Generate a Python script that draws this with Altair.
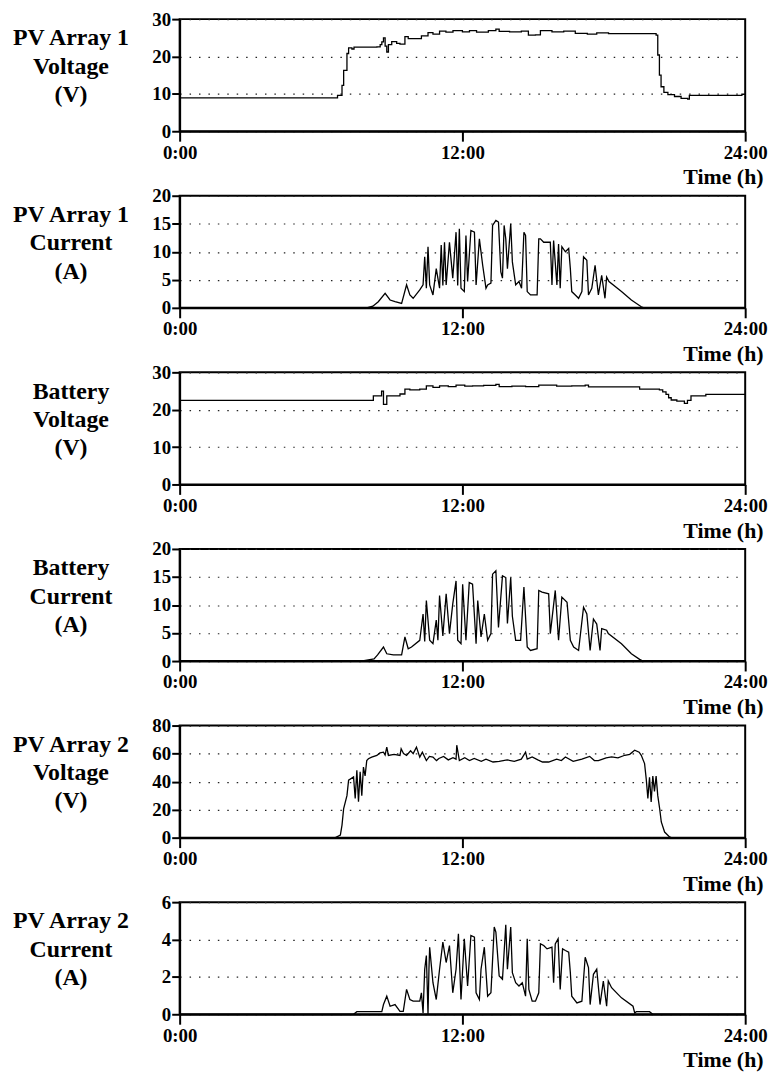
import altair as alt
import pandas as pd

# ---------------- data (hours, value) ----------------
PV1_VOLTAGE = [
    (0, 8.9), (6.70, 9.6), (6.89, 12.3), (6.96, 16.3), (7.10, 20.8), (7.17, 22.3), (7.31, 22.0),
    (7.40, 22.5), (8.37, 22.6), (8.51, 23.2), (8.58, 23.9), (8.65, 25.0), (8.72, 22.8), (8.79, 21.2),
    (8.86, 23.2), (9.00, 24.0), (9.21, 23.5), (9.35, 23.3), (9.56, 25.3), (9.70, 24.8), (10.26, 25.5),
    (10.54, 26.4), (10.75, 26.0), (11.03, 26.8), (11.3, 26.5), (11.6, 26.9), (12.0, 26.6), (12.3, 26.9),
    (12.6, 26.5), (13.1, 26.9), (13.42, 27.3), (13.56, 26.7), (14.0, 26.6), (14.5, 26.8), (14.80, 25.7),
    (15.10, 25.8), (15.31, 26.9), (15.8, 26.6), (16.3, 26.8), (16.79, 26.2), (17.3, 26.0), (17.7, 26.3),
    (18.2, 26.1), (18.89, 26.1), (20.22, 25.7), (20.29, 20.4), (20.36, 15.0), (20.43, 11.9),
    (20.55, 10.4), (20.72, 9.8), (21.0, 9.3), (21.28, 8.8), (21.56, 8.6), (21.63, 9.6), (22.96, 9.6),
    (23.86, 9.9), (24.0, 9.9),
]

PV1_CURRENT = [
    (0, 0), (7.94, 0), (8.20, 0.3), (8.43, 1.1), (8.72, 2.6), (8.93, 1.4), (9.14, 1.1), (9.42, 0.8),
    (9.63, 4.1), (9.77, 2.3), (9.91, 1.7), (10.19, 3.2), (10.33, 4.1), (10.40, 9.1), (10.47, 3.5),
    (10.54, 10.9), (10.61, 4.1), (10.75, 2.3), (10.89, 7.0), (11.03, 3.5), (11.10, 11.2), (11.17, 4.0),
    (11.24, 11.7), (11.31, 4.1), (11.45, 11.7), (11.59, 5.3), (11.73, 13.5), (11.80, 4.0), (11.87, 14.1),
    (11.94, 3.5), (12.08, 2.9), (12.15, 12.9), (12.22, 4.7), (12.36, 13.8), (12.51, 13.5), (12.58, 4.1),
    (12.72, 12.3), (12.86, 7.6), (13.00, 3.5), (13.07, 4.1), (13.21, 4.4), (13.28, 14.7), (13.42, 15.6),
    (13.53, 15.3), (13.63, 6.4), (13.70, 5.3), (13.77, 14.7), (13.84, 12.3), (13.91, 7.0), (14.05, 15.0),
    (14.12, 8.2), (14.26, 4.1), (14.40, 4.7), (14.51, 3.5), (14.61, 13.5), (14.68, 12.9), (14.75, 2.9),
    (14.89, 2.3), (15.17, 2.3), (15.24, 12.3), (15.31, 12.3), (15.45, 11.7), (15.73, 11.7), (15.80, 4.1),
    (15.87, 12.0), (16.01, 4.1), (16.08, 11.4), (16.15, 3.5), (16.22, 10.9), (16.37, 10.0), (16.51, 10.6),
    (16.58, 7.0), (16.64, 2.9), (16.79, 2.3), (16.93, 1.7), (17.07, 2.9), (17.14, 9.1), (17.28, 8.5),
    (17.35, 2.3), (17.49, 3.5), (17.63, 7.6), (17.77, 2.3), (17.91, 5.8), (18.05, 1.7), (18.12, 5.5),
    (18.22, 4.7), (18.75, 2.9), (19.17, 1.4), (19.59, 0.2), (19.7, 0), (24, 0),
]

BATTERY_VOLTAGE = [
    (0, 22.5), (8.22, 23.7), (8.57, 25.0), (8.65, 21.4), (8.79, 23.7), (9.07, 23.7), (9.35, 24.2),
    (9.56, 25.5), (9.77, 25.3), (10.19, 25.5), (10.47, 26.4), (10.75, 26.0), (11.03, 26.4), (11.4, 26.2),
    (11.73, 26.6), (12.1, 26.3), (12.43, 26.4), (12.9, 26.5), (13.42, 26.8), (13.56, 26.2), (14.1, 26.3),
    (14.68, 26.2), (15.24, 26.6), (16.0, 26.3), (16.64, 26.4), (17.21, 26.6), (17.35, 26.1),
    (19.52, 25.5), (20.36, 25.3), (20.50, 24.8), (20.64, 24.1), (20.75, 23.2), (20.86, 22.6),
    (21.1, 22.3), (21.42, 21.7), (21.55, 22.5), (21.70, 23.7), (22.33, 24.1), (24, 24.1),
]

BATTERY_CURRENT = [
    (0, 0), (7.70, 0), (8.25, 0.4), (8.40, 1.1), (8.65, 2.5), (8.79, 1.3), (9.07, 1.1), (9.42, 1.1),
    (9.56, 4.3), (9.70, 2.2), (9.84, 2.5), (10.19, 3.7), (10.33, 8.4), (10.40, 3.5), (10.47, 10.8),
    (10.61, 3.7), (10.75, 3.1), (10.89, 7.3), (10.96, 3.7), (11.03, 11.7), (11.17, 4.5), (11.31, 12.0),
    (11.45, 4.9), (11.59, 10.2), (11.73, 14.3), (11.80, 3.7), (11.94, 3.1), (12.01, 13.7), (12.15, 3.7),
    (12.29, 14.0), (12.43, 13.7), (12.58, 3.1), (12.65, 10.8), (12.79, 4.3), (12.93, 8.4), (13.07, 3.7),
    (13.21, 4.9), (13.28, 15.5), (13.42, 16.1), (13.53, 6.0), (13.70, 15.2), (13.84, 14.9), (13.91, 6.7),
    (14.05, 14.9), (14.12, 8.0), (14.26, 3.7), (14.47, 3.7), (14.61, 13.2), (14.75, 2.5), (14.89, 1.9),
    (15.17, 2.2), (15.24, 12.6), (15.38, 12.3), (15.66, 12.0), (15.73, 4.9), (15.94, 12.6), (16.08, 3.7),
    (16.22, 11.4), (16.44, 10.5), (16.58, 3.7), (16.72, 2.5), (16.93, 1.9), (17.14, 9.6), (17.28, 8.4),
    (17.42, 1.9), (17.56, 7.5), (17.70, 6.6), (17.84, 1.9), (17.91, 5.8), (18.12, 5.5), (18.19, 4.9),
    (18.75, 3.1), (19.17, 1.3), (19.52, 0.3), (19.66, 0), (24, 0),
]

PV2_VOLTAGE = [
    (0, 0), (6.61, 0), (6.82, 1.9), (6.89, 9.0), (6.96, 20.8), (7.10, 30.0), (7.17, 41.0), (7.38, 43.3),
    (7.45, 28.0), (7.52, 48.0), (7.59, 25.6), (7.66, 47.0), (7.73, 30.0), (7.80, 50.4), (7.87, 44.0),
    (7.94, 55.0), (8.01, 56.3), (8.15, 57.5), (8.37, 58.7), (8.50, 60.5), (8.65, 61.0), (8.72, 59.0),
    (8.79, 64.6), (8.86, 58.7), (9.10, 59.5), (9.35, 58.7), (9.40, 63.4), (9.50, 60.0), (9.63, 58.7),
    (9.80, 62.0), (9.91, 60.0), (10.05, 64.6), (10.19, 57.5), (10.30, 61.0), (10.47, 55.0), (10.60, 58.0),
    (10.75, 57.5), (10.90, 55.0), (11.00, 56.5), (11.20, 58.0), (11.40, 55.5), (11.60, 57.0), (11.73, 56.0),
    (11.76, 66.0), (11.87, 55.0), (12.10, 57.0), (12.30, 55.0), (12.50, 56.5), (12.80, 54.5), (13.00, 56.0),
    (13.30, 54.0), (13.56, 54.5), (13.90, 55.5), (14.20, 54.5), (14.50, 56.0), (14.68, 61.0), (14.75, 56.0),
    (14.96, 57.6), (15.20, 55.5), (15.40, 54.0), (15.66, 54.0), (16.00, 56.0), (16.20, 55.0), (16.37, 57.6),
    (16.70, 54.5), (17.07, 56.0), (17.40, 58.0), (17.60, 55.0), (17.77, 55.0), (18.10, 57.0), (18.33, 57.6),
    (18.60, 57.0), (18.89, 58.8), (19.10, 59.5), (19.31, 62.4), (19.50, 61.0), (19.59, 58.8), (19.73, 52.9),
    (19.80, 42.0), (19.87, 27.9), (19.94, 43.0), (20.01, 25.5), (20.08, 44.0), (20.15, 33.0), (20.22, 44.0),
    (20.29, 30.0), (20.37, 20.7), (20.44, 11.2), (20.58, 4.0), (20.79, 0.5), (20.86, 0), (24, 0),
]

PV2_CURRENT = [
    (0, 0), (7.38, 0), (7.52, 0.14), (8.58, 0.14), (8.65, 0.52), (8.79, 0.97), (8.93, 0.43), (9.14, 0.52),
    (9.35, 0.16), (9.49, 0.16), (9.63, 1.33), (9.77, 0.79), (9.91, 0.70), (10.19, 0.70), (10.26, 1.15),
    (10.33, 0.07), (10.40, 2.41), (10.47, 3.14), (10.54, 0), (10.58, 2.41), (10.61, 3.59), (10.75, 1.69),
    (10.89, 0.79), (11.03, 2.41), (11.17, 3.86), (11.31, 2.77), (11.45, 3.68), (11.59, 1.15), (11.73, 2.41),
    (11.83, 4.31), (11.94, 0.79), (12.08, 4.04), (12.22, 1.51), (12.36, 4.22), (12.51, 4.13), (12.58, 1.15),
    (12.72, 0.79), (12.79, 2.41), (12.93, 3.59), (13.07, 0.97), (13.21, 1.15), (13.35, 4.67), (13.42, 4.40),
    (13.56, 2.05), (13.70, 1.87), (13.84, 4.79), (13.91, 2.41), (14.05, 4.67), (14.12, 2.23), (14.26, 1.69),
    (14.40, 1.51), (14.54, 1.69), (14.68, 0.97), (14.75, 4.04), (14.82, 1.33), (14.96, 0.70), (15.10, 0.70),
    (15.24, 1.15), (15.31, 3.77), (15.45, 3.68), (15.59, 3.50), (15.80, 3.59), (15.87, 1.69), (15.94, 3.77),
    (16.06, 4.04), (16.15, 1.33), (16.25, 3.50), (16.37, 3.41), (16.51, 3.32), (16.58, 2.23), (16.64, 0.97),
    (16.86, 0.61), (17.07, 0.70), (17.21, 3.05), (17.35, 2.50), (17.42, 0.52), (17.56, 2.14), (17.70, 2.41),
    (17.84, 0.52), (17.98, 1.78), (18.12, 0.43), (18.19, 1.78), (18.33, 1.42), (18.75, 0.88), (19.24, 0.43),
    (19.31, 0.07), (19.38, 0.14), (19.94, 0.14), (20.08, 0), (24, 0),
]

X_TICKS = [0, 12, 24]
X_TITLE = "Time (h)"

PANELS = [
    (PV1_VOLTAGE, [0, 10, 20, 30], ["PV Array 1", "Voltage", "(V)"], "step-after"),
    (PV1_CURRENT, [0, 5, 10, 15, 20], ["PV Array 1", "Current", "(A)"], "linear"),
    (BATTERY_VOLTAGE, [0, 10, 20, 30], ["Battery", "Voltage", "(V)"], "step-after"),
    (BATTERY_CURRENT, [0, 5, 10, 15, 20], ["Battery", "Current", "(A)"], "linear"),
    (PV2_VOLTAGE, [0, 20, 40, 60, 80], ["PV Array 2", "Voltage", "(V)"], "linear"),
    (PV2_CURRENT, [0, 2, 4, 6], ["PV Array 2", "Current", "(A)"], "linear"),
]

# ---------------- chart ----------------
FONT = "Liberation Serif"
W = 570
H = 113


def panel(points, yticks, title_lines, interp):
    df = pd.DataFrame(points, columns=["h", "v"])
    return alt.Chart(df).mark_line(
        color="black", strokeWidth=1.3, interpolate=interp
    ).encode(
        x=alt.X(
            "h:Q",
            scale=alt.Scale(domain=[0, 24], nice=False, zero=False),
            axis=alt.Axis(
                values=X_TICKS, labelExpr="datum.value + ':00'", title=X_TITLE,
                grid=False, tickSize=10, labelPadding=2, labelFlush=False,
                titleX=W + 18, titleY=46, titleAlign="right", titleBaseline="middle",
                titleFontSize=22, titleFont=FONT, labelFont=FONT, labelFontSize=19,
            ),
        ),
        y=alt.Y(
            "v:Q",
            scale=alt.Scale(domain=[yticks[0], yticks[-1]], nice=False),
            axis=alt.Axis(
                values=yticks, title=title_lines, titleAngle=0, titleX=-110, titleY=7,
                titleAlign="center", titleBaseline="top", titleLineHeight=28.5,
                titleFontSize=24, titleFont=FONT, labelFont=FONT, labelFontSize=19,
                grid=True, gridDash=[1.5, 8], gridColor="#222", gridWidth=1.2,
                tickSize=8, labelPadding=1,
            ),
        ),
    ).properties(width=W, height=H)


chart = alt.vconcat(
    *[panel(*p) for p in PANELS], spacing=65, bounds="flush"
).properties(
    padding={"left": 2, "top": -3, "right": 0, "bottom": 0}
).configure_view(
    stroke="black", strokeWidth=2
).configure_axis(
    domainColor="black", domainWidth=2, tickColor="black", tickWidth=2,
    labelFontWeight="bold", labelColor="black",
    titleFontWeight="bold", titleColor="black",
)

chart.save("out.html", embed_options={"renderer": "svg", "actions": False})
